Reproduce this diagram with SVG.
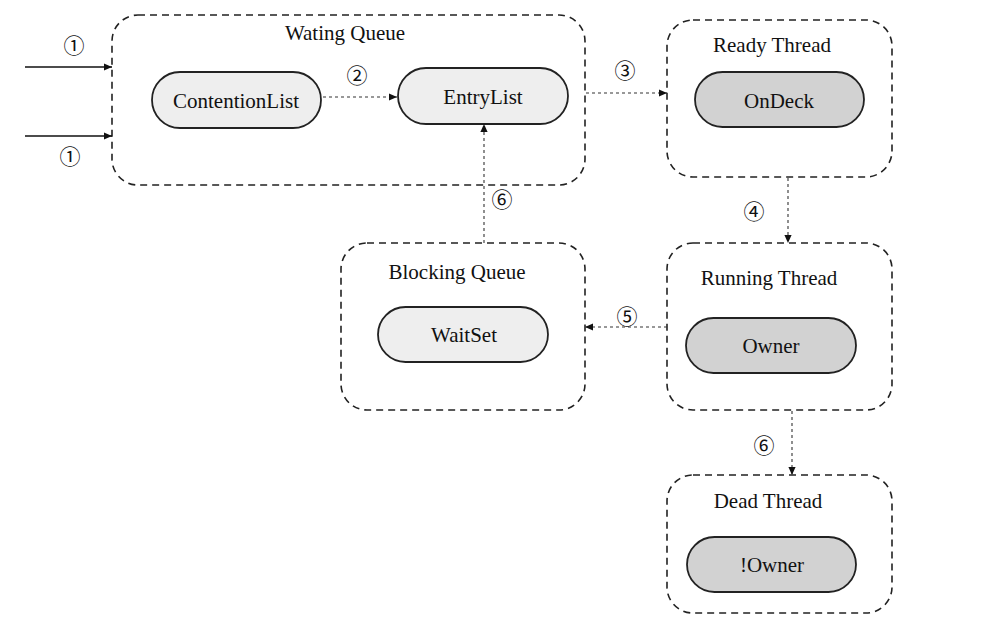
<svg xmlns="http://www.w3.org/2000/svg" width="986" height="642" viewBox="0 0 986 642">
<defs>
<marker id="ah" viewBox="0 0 10 10" refX="10" refY="5" markerWidth="8" markerHeight="8" markerUnits="userSpaceOnUse" orient="auto">
<path d="M0,0.5 L10,5 L0,9.5 z" fill="#111"/>
</marker>
<style>
.box{fill:none;stroke:#222;stroke-width:1.6;stroke-dasharray:7 5}
.pill{stroke:#222;stroke-width:1.8}
.light{fill:#eeeeee}
.dark{fill:#d2d2d2}
text{font-family:"Liberation Serif","DejaVu Serif",serif;font-size:21px;fill:#111;text-anchor:middle}
.num{font-family:"Noto Sans CJK SC","DejaVu Sans",sans-serif;font-size:21px;dominant-baseline:central}
.solid{stroke:#111;stroke-width:1.3;fill:none}
.dot{stroke:#333;stroke-width:1.1;stroke-dasharray:3 3;fill:none}
</style>
</defs>
<rect width="986" height="642" fill="#fff"/>
<g id="waiting-queue">
<rect class="box" x="112" y="15" width="473" height="170" rx="26"/>
<text x="345" y="40">Wating Queue</text>
</g>
<g id="contentionlist">
<rect class="pill light" x="152" y="72" width="169" height="56" rx="28"/>
<text x="236" y="108">ContentionList</text>
</g>
<g id="entrylist">
<rect class="pill light" x="398" y="68" width="170" height="56" rx="28"/>
<text x="483" y="104">EntryList</text>
</g>
<g id="ready-thread">
<rect class="box" x="667" y="20" width="225" height="157" rx="26"/>
<text x="772" y="52">Ready Thread</text>
</g>
<g id="ondeck">
<rect class="pill dark" x="695" y="72" width="169" height="55" rx="27.5"/>
<text x="779" y="108">OnDeck</text>
</g>
<g id="blocking-queue">
<rect class="box" x="341" y="243" width="244" height="167" rx="26"/>
<text x="457" y="279">Blocking Queue</text>
</g>
<g id="waitset">
<rect class="pill light" x="378" y="307" width="170" height="55" rx="27.5"/>
<text x="464" y="342">WaitSet</text>
</g>
<g id="running-thread">
<rect class="box" x="667" y="243" width="225" height="167" rx="26"/>
<text x="769" y="285">Running Thread</text>
</g>
<g id="owner">
<rect class="pill dark" x="686" y="318" width="170" height="55" rx="27.5"/>
<text x="771" y="353">Owner</text>
</g>
<g id="dead-thread">
<rect class="box" x="667" y="475" width="225" height="138" rx="26"/>
<text x="768" y="508">Dead Thread</text>
</g>
<g id="not-owner">
<rect class="pill dark" x="687" y="537" width="169" height="55" rx="27.5"/>
<text x="772" y="572">!Owner</text>
</g>
<g id="connectors">
<line class="solid" x1="25" y1="67" x2="112" y2="67" marker-end="url(#ah)"/>
<text class="num" x="74" y="44">①</text>
<line class="solid" x1="25" y1="136" x2="112" y2="136" marker-end="url(#ah)"/>
<text class="num" x="70" y="155">①</text>
<line class="dot" x1="323" y1="97" x2="397" y2="97" marker-end="url(#ah)"/>
<text class="num" x="357" y="74">②</text>
<line class="dot" x1="586" y1="93" x2="667" y2="93" marker-end="url(#ah)"/>
<text class="num" x="625" y="69">③</text>
<line class="dot" x1="788" y1="178" x2="788" y2="243" marker-end="url(#ah)"/>
<text class="num" x="754" y="210">④</text>
<line class="dot" x1="667" y1="327" x2="585" y2="327" marker-end="url(#ah)"/>
<text class="num" x="627" y="315">⑤</text>
<line class="dot" x1="484" y1="243" x2="484" y2="124" marker-end="url(#ah)"/>
<text class="num" x="502" y="198">⑥</text>
<line class="dot" x1="792" y1="411" x2="792" y2="475" marker-end="url(#ah)"/>
<text class="num" x="764" y="444">⑥</text>
</g>
</svg>
